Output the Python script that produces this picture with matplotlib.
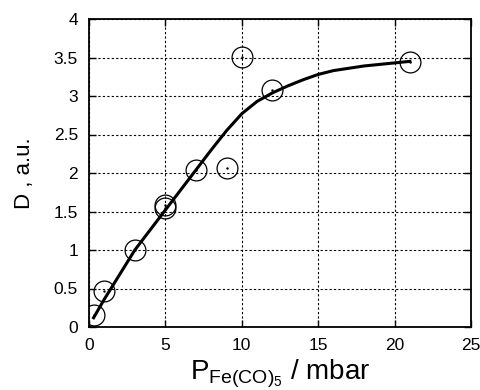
import matplotlib
matplotlib.use("Agg")
import matplotlib.pyplot as plt

plt.rcParams['font.family'] = ['Liberation Sans', 'DejaVu Sans']
plt.rcParams['mathtext.fontset'] = 'custom'
plt.rcParams['mathtext.rm'] = 'Liberation Sans'
plt.rcParams['mathtext.it'] = 'Liberation Sans'

# measured points
px = [0.3, 1, 3, 5, 5, 7, 9, 10, 12, 21]
py = [0.15, 0.47, 1.0, 1.58, 1.54, 2.04, 2.06, 3.51, 3.08, 3.44]

# fitted curve
cx = [0.3, 1, 2, 3, 4, 5, 6, 7, 8, 9, 10, 11, 12, 13, 14, 15, 16, 17, 18, 19, 20, 21]
cy = [0.12, 0.36, 0.68, 1.0, 1.26, 1.52, 1.78, 2.04, 2.30, 2.55, 2.77, 2.93, 3.04,
      3.13, 3.21, 3.28, 3.33, 3.36, 3.39, 3.41, 3.43, 3.45]

xticks = [0, 5, 10, 15, 20, 25]
yticks = [0, 0.5, 1, 1.5, 2, 2.5, 3, 3.5, 4]
yticklabels = ['0', '0.5', '1', '1.5', '2', '2.5', '3', '3.5', '4']

fig = plt.figure(figsize=(4.81, 3.90), dpi=100)
ax = fig.add_axes([89/481, 1 - 327/390, (471-89)/481, (327-19)/390])

ax.plot(cx, cy, color='black', lw=2.2, zorder=3, solid_joinstyle='round')
ax.plot(px, py, linestyle='none', marker='o', markersize=15, markerfacecolor='none',
        markeredgecolor='black', markeredgewidth=0.9, zorder=4)
ax.plot(px, py, linestyle='none', marker='.', markersize=1.5, color='black', zorder=4)

ax.set_xlim(0, 25)
ax.set_ylim(0, 4)
ax.set_xticks(xticks)
ax.set_yticks(yticks)
ax.set_yticklabels(yticklabels)
ax.tick_params(direction='in', length=5, width=1, top=True, right=True, labelsize=12.5, pad=8)
ax.grid(True, color='black', linestyle=(0, (2, 2)), linewidth=0.8)
for s in ax.spines.values():
    s.set_linewidth(1.3)

ax.set_ylabel('D , a.u.', fontsize=16, labelpad=13)
ax.set_xlabel(r'$\mathregular{P_{Fe(CO)_5}}$ / mbar', fontsize=20, labelpad=3)

fig.savefig('out.png', dpi=100)
